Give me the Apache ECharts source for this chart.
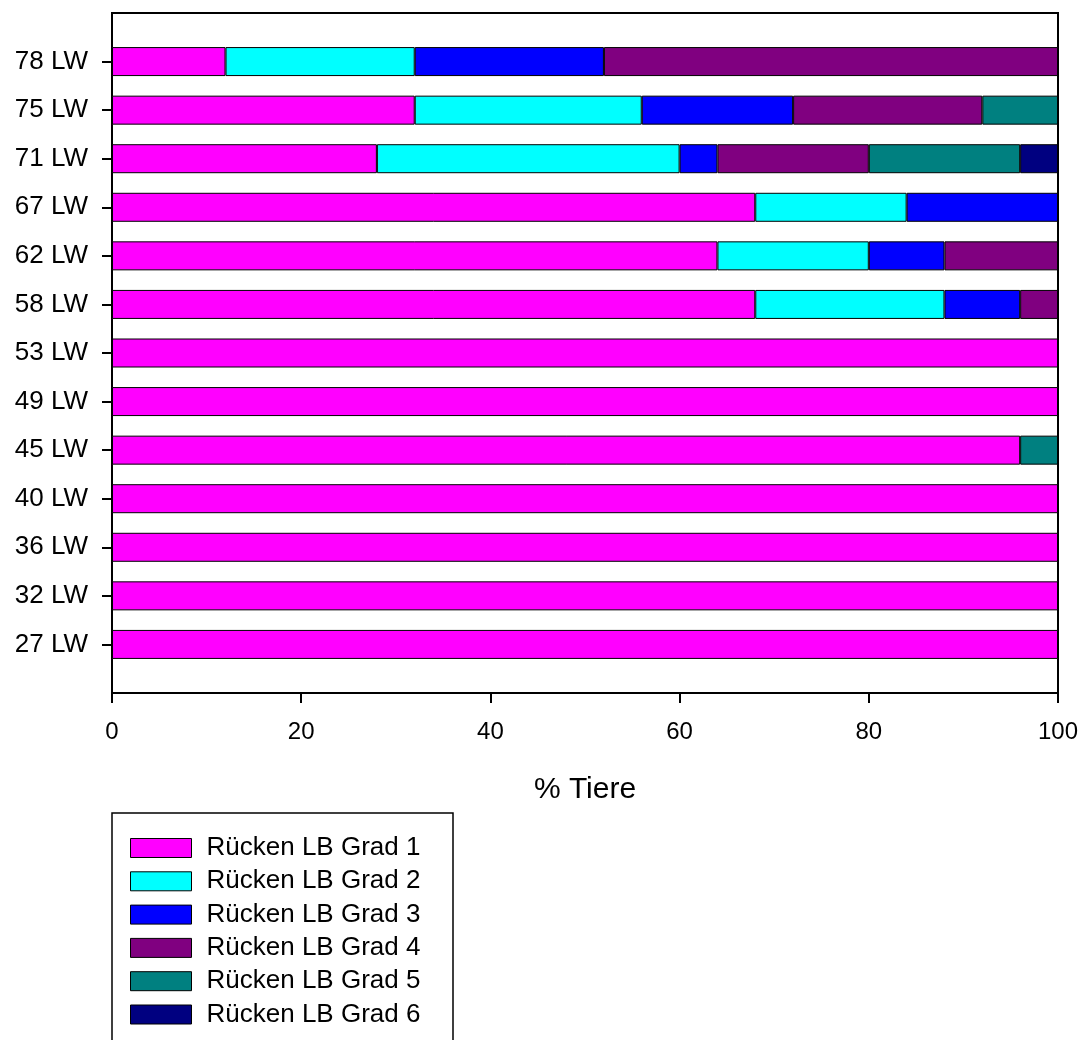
<!DOCTYPE html>
<html>
<head>
<meta charset="utf-8">
<script src="https://cdn.jsdelivr.net/npm/echarts@6/dist/echarts.min.js"></script>
<style>
  html, body { margin: 0; padding: 0; background: #fff; }
  #chart { width: 1085px; height: 1040px; }
</style>
</head>
<body>
<div id="chart"></div>
<script>
// Age groups (Lebenswoche), bottom to top
const categories = ['27 LW', '32 LW', '36 LW', '40 LW', '45 LW', '49 LW', '53 LW', '58 LW', '62 LW', '67 LW', '71 LW', '75 LW', '78 LW'];

// Share of animals (%) per lesion grade, same order as categories
const grad1 = [100, 100, 100, 100, 96, 100, 100, 68, 64, 68, 28, 32, 12];
const grad2 = [0, 0, 0, 0, 0, 0, 0, 20, 16, 16, 32, 24, 20];
const grad3 = [0, 0, 0, 0, 0, 0, 0, 8, 8, 16, 4, 16, 20];
const grad4 = [0, 0, 0, 0, 0, 0, 0, 4, 12, 0, 16, 20, 48];
const grad5 = [0, 0, 0, 0, 4, 0, 0, 0, 0, 0, 16, 8, 0];
const grad6 = [0, 0, 0, 0, 0, 0, 0, 0, 0, 0, 4, 0, 0];

const seriesNames = ['Rücken LB Grad 1', 'Rücken LB Grad 2', 'Rücken LB Grad 3', 'Rücken LB Grad 4', 'Rücken LB Grad 5', 'Rücken LB Grad 6'];
const seriesColors = ['#FF00FF', '#00FFFF', '#0000FF', '#800080', '#008080', '#000080'];
const xTicks = [0, 20, 40, 60, 80, 100];

const FONT = 'Liberation Sans, Arial, sans-serif';

// Empty slots above and below give the padding between the frame and the outer bars
const axisCats = [''].concat(categories, ['']);
const pad = v => [null].concat(v.map(x => (x === 0 ? null : x)), [null]);

const allData = [grad1, grad2, grad3, grad4, grad5, grad6];
const series = allData.map((d, i) => ({
  name: seriesNames[i],
  type: 'bar',
  stack: 'total',
  barWidth: 29,
  data: pad(d),
  itemStyle: { color: seriesColors[i], borderColor: '#000', borderWidth: 1 },
  emphasis: { disabled: true }
}));

const chart = echarts.init(document.getElementById('chart'), null, { renderer: 'canvas' });
chart.setOption({
  animation: false,
  backgroundColor: '#fff',
  grid: {
    left: 112, right: 27, top: 13, bottom: 347,
    show: true, borderColor: '#000', borderWidth: 2, backgroundColor: 'transparent'
  },
  xAxis: {
    type: 'value',
    min: xTicks[0], max: xTicks[xTicks.length - 1], interval: 20,
    name: '% Tiere',
    nameLocation: 'middle',
    nameGap: 82,
    nameTextStyle: { fontFamily: FONT, fontSize: 30, color: '#000' },
    axisLine: { show: true, onZero: false, lineStyle: { color: '#000', width: 2 } },
    axisTick: { show: true, length: 10, lineStyle: { color: '#000', width: 2 } },
    axisLabel: { fontFamily: FONT, fontSize: 24, color: '#000', margin: 27 },
    splitLine: { show: false }
  },
  yAxis: {
    type: 'category',
    data: axisCats,
    boundaryGap: false,
    axisLine: { show: true, lineStyle: { color: '#000', width: 2 } },
    axisTick: {
      show: true, length: 10, alignWithLabel: true,
      interval: (idx, val) => val !== '',
      lineStyle: { color: '#000', width: 2 }
    },
    axisLabel: { fontFamily: FONT, fontSize: 26, color: '#000', margin: 24, interval: 0 },
    splitLine: { show: false }
  },
  legend: {
    orient: 'vertical',
    left: 130,
    top: 835,
    height: 300,
    padding: 0,
    itemWidth: 61,
    itemHeight: 19,
    itemGap: 7.3,
    icon: 'rect',
    selectedMode: false,
    data: seriesNames,
    textStyle: { fontFamily: FONT, fontSize: 26, color: '#000', padding: [0, 0, 0, 10] },
    itemStyle: { borderColor: '#000', borderWidth: 1 }
  },
  graphic: [{
    type: 'rect',
    shape: { x: 112, y: 813, width: 341, height: 300 },
    style: { fill: 'none', stroke: '#000', lineWidth: 1.5 },
    silent: true
  }],
  series: series
});
</script>
</body>
</html>
